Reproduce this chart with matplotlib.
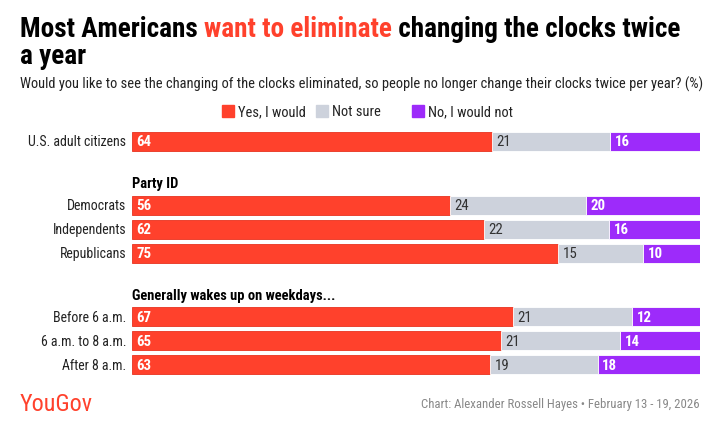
import matplotlib
matplotlib.use('Agg')
import matplotlib.pyplot as plt
from matplotlib.patches import Rectangle

# data
groups = ['', 'Party ID', 'Generally wakes up on weekdays...']
labels = [['U.S. adult citizens'],
          ['Democrats', 'Independents', 'Republicans'],
          ['Before 6 a.m.', '6 a.m. to 8 a.m.', 'After 8 a.m.']]
yes = [[64], [56, 62, 75], [67, 65, 63]]
not_sure = [[21], [24, 22, 15], [21, 21, 19]]
no = [[16], [20, 16, 10], [12, 14, 18]]
answers = ['Yes, I would', 'Not sure', 'No, I would not']
colors = ['#ff412c', '#cdd2dc', '#9d2bfa']

plt.rcParams['font.family'] = ['Roboto Condensed', 'Archivo Narrow', 'DejaVu Sans']

W, H = 726, 431
fig = plt.figure(figsize=(W / 100, H / 100), dpi=100)
fig.canvas.draw()
r = fig.canvas.get_renderer()


def px(x, y):
    return x / W, 1 - y / H


def fit(txt, width):
    # scale a text's font size so that it spans `width` pixels
    w = txt.get_window_extent(r).width
    txt.set_fontsize(txt.get_fontsize() * width / w)


def after(txt, s, c, size):
    bb = txt.get_window_extent(r)
    return fig.text(bb.x1 / W, txt.get_position()[1], s, fontsize=size, fontweight='bold', color=c)


# title, split in colours
full = fig.text(0, 0, 'Most Americans want to eliminate changing the clocks twice', fontsize=20, fontweight='bold')
fit(full, 660)
tsize = full.get_fontsize()
full.remove()
t = fig.text(*px(20, 37), 'Most Americans ', fontsize=tsize, fontweight='bold', color='black')
t2 = after(t, 'want to eliminate', '#ff412c', tsize)
t3 = after(t2, ' changing the clocks twice', 'black', tsize)
fig.text(*px(20, 64), 'a year', fontsize=tsize, fontweight='bold', color='black')

sub = fig.text(*px(20, 89), 'Would you like to see the changing of the clocks eliminated, so people no longer change their clocks twice per year? (%)',
               fontsize=10, color='#222222')
fit(sub, 677)
fs = sub.get_fontsize()

# legend
leg_x = [222, 316, 412]
for lx, a, c in zip(leg_x, answers, colors):
    fig.patches.append(Rectangle(px(lx, 118), 12 / W, 12 / H, transform=fig.transFigure, color=c))
    fig.text(*px(lx + 16, 116), a, fontsize=fs, color='#222222')

# bars
ax = fig.add_axes([132 / W, 1 - 376.5 / H, 568 / W, 246 / H])
ax.set_xlim(0, 1)
pos = 0.0
for gi, g in enumerate(groups):
    if g:
        pos += 0.95
        ax.text(0, pos, g, fontsize=fs, fontweight='bold', va='center', ha='left')
        pos += 0.9
    for i, lab in enumerate(labels[gi]):
        vals = [yes[gi][i], not_sure[gi][i], no[gi][i]]
        tot = sum(vals)
        left = 0
        for k, v in enumerate(vals):
            w = v / tot
            ax.barh(pos, w, left=left, height=0.8, color=colors[k],
                    edgecolor='#e8331f' if k == 0 else 'white', linewidth=0.6)
            ax.text(left + 0.008, pos, str(v), va='center', ha='left', fontsize=fs + 0.3,
                    color='#333333' if k == 1 else 'white', fontweight='normal' if k == 1 else 'bold')
            left += w
        ax.text(-0.01, pos, lab, va='center', ha='right', fontsize=fs * 0.96, color='#222222')
        pos += 1
    pos -= 0.2
ax.set_ylim(9.75, -0.5)
ax.axis('off')

# footer
logo = fig.text(*px(20, 411), 'YouGov', fontsize=16, color='#ff412c')
fit(logo, 73)
foot = fig.text(*px(700, 408), 'Chart: Alexander Rossell Hayes \u2022 February 13 - 19, 2026', fontsize=fs,
                color='#888888', ha='right')
fit(foot, 280)

fig.savefig('out.png', dpi=100)
